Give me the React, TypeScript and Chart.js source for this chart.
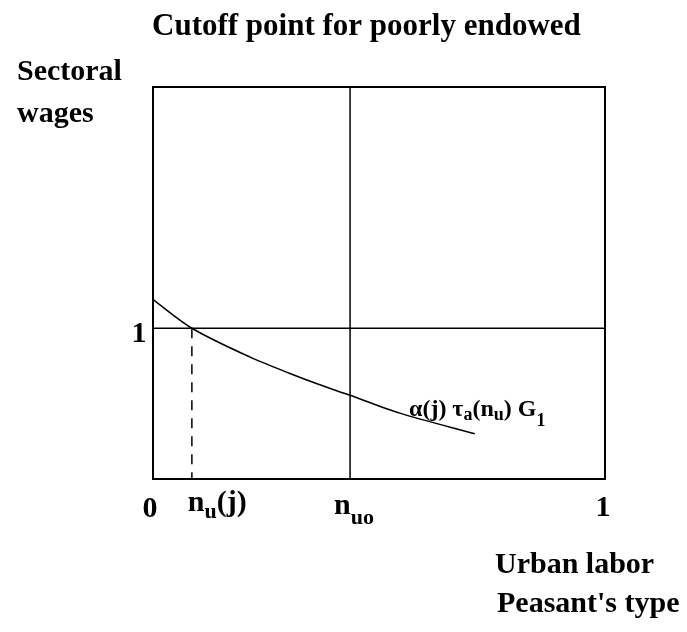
import React, { useEffect, useRef } from "react";
import { Chart, registerables } from "chart.js";

Chart.register(...registerables);

// Data
const curveX = [0, 0.086, 0.215, 0.303, 0.369, 0.436, 0.546, 0.712];
const curveY = [1.19, 1.0, 0.808, 0.7, 0.625, 0.555, 0.437, 0.3];
const wageLevel = 1;
const nuj = 0.086;
const nuo = 0.436;
const xMin = 0;
const xMax = 1;
const yMin = 0;
const yMax = 2.6;

const TITLE = "Cutoff point for poorly endowed";
const Y_TITLE = ["Sectoral", "wages"];
const X_TITLE = ["Urban labor", "Peasant's type"];

type Part = { t: string; size: number; dy: number };

function drawParts(ctx: CanvasRenderingContext2D, parts: Part[], x: number, y: number, family: string) {
  let cx = x;
  for (const p of parts) {
    ctx.font = `bold ${p.size}px ${family}`;
    ctx.fillText(p.t, cx, y + p.dy);
    cx += ctx.measureText(p.t).width;
  }
}

const SERIF = '"Liberation Serif", "Times New Roman", serif';

const textPlugin = {
  id: "textPlugin",
  afterDraw(chart: any) {
    const ctx: CanvasRenderingContext2D = chart.ctx;
    const xs = chart.scales.x;
    const ys = chart.scales.y;
    const area = chart.chartArea;
    ctx.save();
    // box
    ctx.strokeStyle = "#000";
    ctx.lineWidth = 2;
    ctx.strokeRect(area.left, area.top, area.right - area.left, area.bottom - area.top);

    ctx.fillStyle = "#000";
    ctx.textBaseline = "alphabetic";
    ctx.textAlign = "left";
    ctx.font = `bold 31px ${SERIF}`;
    ctx.fillText(TITLE, 152, 35);
    ctx.font = `bold 30px ${SERIF}`;
    ctx.fillText(Y_TITLE[0], 17, 80);
    ctx.fillText(Y_TITLE[1], 17, 122);
    ctx.fillText(X_TITLE[0], 495, 573);
    ctx.fillText(X_TITLE[1], 497, 612);

    // y tick "1"
    ctx.textAlign = "center";
    ctx.fillText("1", 139, ys.getPixelForValue(wageLevel) + 14);
    // x ticks
    ctx.fillText("0", xs.getPixelForValue(xMin) - 3, 517);
    ctx.fillText("1", xs.getPixelForValue(xMax) - 2, 516);
    ctx.textAlign = "left";
    drawParts(
      ctx,
      [
        { t: "n", size: 30, dy: 0 },
        { t: "u", size: 22, dy: 7 },
        { t: "(j)", size: 30, dy: 0 },
      ],
      xs.getPixelForValue(nuj) - 4,
      511,
      SERIF
    );
    drawParts(
      ctx,
      [
        { t: "n", size: 30, dy: 0 },
        { t: "uo", size: 22, dy: 10 },
      ],
      xs.getPixelForValue(nuo) - 16,
      514,
      SERIF
    );
    // curve label
    drawParts(
      ctx,
      [
        { t: "\u03b1(j) \u03c4", size: 24, dy: 0 },
        { t: "a", size: 18, dy: 4 },
        { t: "(n", size: 24, dy: 0 },
        { t: "u", size: 18, dy: 4 },
        { t: ") G", size: 24, dy: 0 },
        { t: "1", size: 18, dy: 10 },
      ],
      409,
      416,
      SERIF
    );
    ctx.restore();
  },
};

export default function App() {
  const ref = useRef<HTMLCanvasElement | null>(null);
  useEffect(() => {
    if (!ref.current) return;
    const chart = new Chart(ref.current, {
      type: "scatter",
      data: {
        datasets: [
          {
            label: "curve",
            data: curveX.map((x, i) => ({ x, y: curveY[i] })),
            showLine: true,
            borderColor: "#000",
            borderWidth: 1.5,
            pointRadius: 0,
            tension: 0.3,
          },
          {
            label: "one",
            data: [
              { x: xMin, y: wageLevel },
              { x: xMax, y: wageLevel },
            ],
            showLine: true,
            borderColor: "#000",
            borderWidth: 1.5,
            pointRadius: 0,
          },
          {
            label: "nuo",
            data: [
              { x: nuo, y: yMin },
              { x: nuo, y: yMax },
            ],
            showLine: true,
            borderColor: "#000",
            borderWidth: 1.5,
            pointRadius: 0,
          },
          {
            label: "nuj",
            data: [
              { x: nuj, y: wageLevel },
              { x: nuj, y: yMin },
            ],
            showLine: true,
            borderColor: "#000",
            borderWidth: 1.5,
            borderDash: [10, 8],
            pointRadius: 0,
          },
        ],
      },
      options: {
        animation: false,
        responsive: false,
        maintainAspectRatio: false,
        layout: { padding: { left: 153, right: 82, top: 87, bottom: 153 } },
        plugins: {
          legend: { display: false },
          tooltip: { enabled: false },
          title: { display: false },
        },
        scales: {
          x: { type: "linear", min: xMin, max: xMax, display: false },
          y: { type: "linear", min: yMin, max: yMax, display: false },
        },
      },
      plugins: [textPlugin],
    } as any);
    return () => chart.destroy();
  }, []);
  return (
    <div style={{ position: "fixed", left: 0, top: 0, width: 687, height: 632, background: "#fff" }}>
      <canvas ref={ref} width={687} height={632} style={{ width: 687, height: 632 }} />
    </div>
  );
}
